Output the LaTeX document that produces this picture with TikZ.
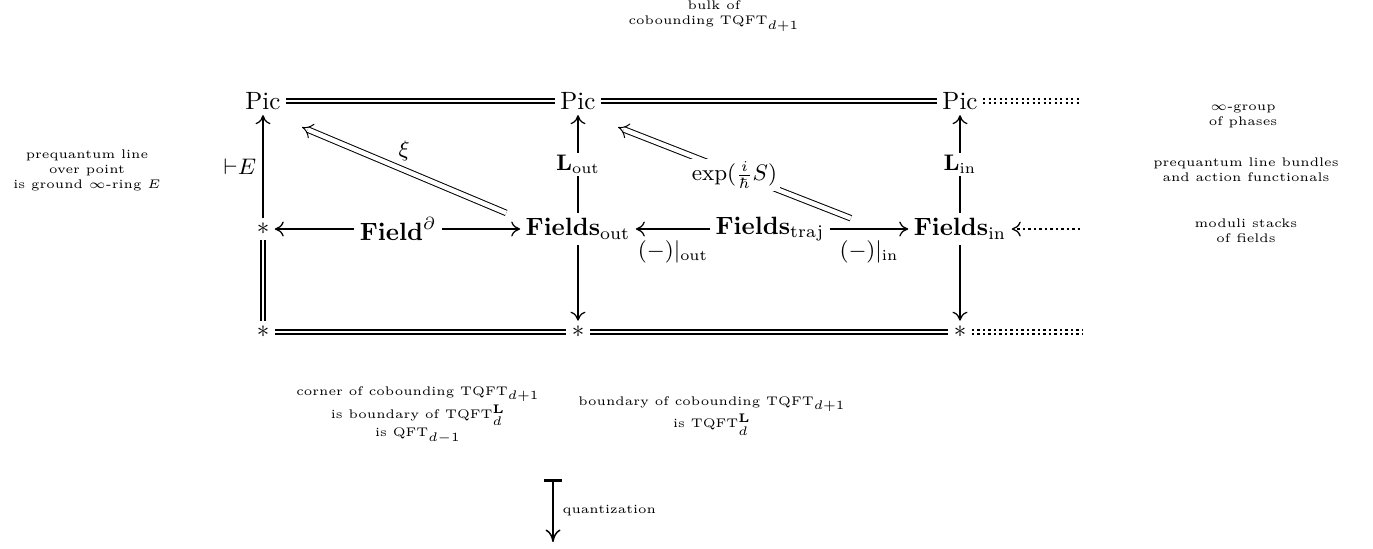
\documentclass[tikz,border=0pt]{standalone}
\usetikzlibrary{arrows.meta}

\begin{document}
\begin{tikzpicture}[x=0.4pt,y=-0.4pt,
    % --------------------------
    % the styles of the diagram
    % --------------------------
    obj/.style={inner sep=2pt}, % the objects of the diagram
    note/.style={font=\tiny,align=center}, % the side comments
    lbl/.style={font=\small}, % the labels of the maps
    desc/.style={font=\small,fill=white,inner sep=1pt}, % a label on its map
    tip/.style={-{Computer Modern Rightarrow[length=3.6pt,width=6pt,line width=0.5pt]}},
    map/.style={line width=0.8pt,tip},
    eqline/.style={line width=0.8pt,double,double distance=0.8pt},
    dotline/.style={line width=0.8pt,dash pattern=on 0.9pt off 1.3pt},
    dotmap/.style={line width=0.6pt,dash pattern=on 0.9pt off 1.3pt,tip},
    twocell/.style={line width=0.4pt,double,double distance=1.8pt,
                    -{Implies[length=5pt]}},
    quant/.style={line width=1pt,{Bar[width=7pt]}-{Computer Modern Rightarrow[length=5pt,width=6pt,line width=0.6pt]}}]
  \useasboundingbox (0,0) rectangle (1373,548);
  % ----------------------
  % the top row: the phases
  % ----------------------
  \node[obj] (pic1) at (263,101) {Pic};
  \node[obj] (pic2) at (578,101) {Pic};
  \node[obj] (pic3) at (960,101) {Pic};
  \coordinate (picend) at (1082,101);
  % ------------------------
  % the middle row: the fields
  % ------------------------
  \node[obj] (pt1) at (263,229) {$\ast$};
  \node[obj] (bdry) at (398,229) {$\mathbf{Field}^{\partial}$};
  \node[obj] (fout) at (578,229) {$\mathbf{Fields}_{\mathrm{out}}$};
  \node[obj] (ftraj) at (770,229) {$\mathbf{Fields}_{\mathrm{traj}}$};
  \node[obj] (fin) at (960,229) {$\mathbf{Fields}_{\mathrm{in}}$};
  \coordinate (finend) at (1080,229);
  % ------------------------
  % the bottom row: the points
  % ------------------------
  \node[obj] (pt2) at (263,332) {$\ast$};
  \node[obj] (pt3) at (578,332) {$\ast$};
  \node[obj] (pt4) at (960,332) {$\ast$};
  \coordinate (ptend) at (1082,332);
  % ---------
  % the maps
  % ---------
  \draw[eqline] (pic1) -- (pic2);
  \draw[eqline] (pic2) -- (pic3);
  \foreach \s in {-0.8pt,0.8pt}{
    \draw[dotline] ([yshift=\s]pic3.east) -- ([yshift=\s]picend);
    \draw[dotline] ([yshift=\s]pt4.east) -- ([yshift=\s]ptend);
  }
  \draw[map] (pt1) -- node[lbl,left,xshift=1pt] {${\vdash}E$} (pic1);
  \draw[map] (fout) -- node[desc] {$\mathbf{L}_{\mathrm{out}}$} (pic2);
  \draw[map] (fin) -- node[desc] {$\mathbf{L}_{\mathrm{in}}$} (pic3);
  \draw[map] (bdry) -- (pt1);
  \draw[map] (bdry) -- (fout);
  \draw[map] (ftraj) -- node[lbl,below,yshift=-1pt] {$(-)|_{\mathrm{out}}$} (fout);
  \draw[map] (ftraj) -- node[lbl,below,yshift=-1pt] {$(-)|_{\mathrm{in}}$} (fin);
  \draw[dotmap] (finend) -- (fin);
  \draw[eqline] (pt1) -- (pt2);
  \draw[map] (fout) -- (pt3);
  \draw[map] (fin) -- (pt4);
  \draw[eqline] (pt2) -- (pt3);
  \draw[eqline] (pt3) -- (pt4);
  % the two 2-cells
  \draw[twocell] ([shift={(-14,0)}]fout.north west) -- node[lbl,above] {$\xi$}
    ([shift={(16,12)}]pic1.south east);
  \draw[twocell] ([shift={(21,7)}]ftraj.north east) -- node[desc,yshift=-1pt] {$\exp(\frac{i}{\hbar}S)$}
    ([shift={(17,12)}]pic2.south east);
  % --------------
  % the comments
  % --------------
  \node[note] (bulk) at (714,16) {bulk of\\cobounding $\mathrm{TQFT}_{d+1}$};
  \node[note] (ground) at (87,170) {prequantum line\\over point\\is ground $\infty$-ring $E$};
  \node[note] (phases) at (1243,116) {$\infty$-group\\of phases};
  \node[note] (bundles) at (1246,170) {prequantum line bundles\\and action functionals};
  \node[note] (stacks) at (1246,231) {moduli stacks\\of fields};
  \node[note] (corner) at (418,415) {corner of cobounding $\mathrm{TQFT}_{d+1}$\\
    is boundary of $\mathrm{TQFT}^{\mathbf{L}}_{d}$\\is $\mathrm{QFT}_{d-1}$};
  \node[note] (boundary) at (712,416) {boundary of cobounding $\mathrm{TQFT}_{d+1}$\\
    is $\mathrm{TQFT}^{\mathbf{L}}_{d}$};
  % ----------------
  % the quantization
  % ----------------
  \coordinate (qtop) at (553,479);
  \coordinate (qbot) at (553,542);
  \draw[quant] (qtop) -- node[note,right] {quantization} (qbot);
\end{tikzpicture}
\end{document}
